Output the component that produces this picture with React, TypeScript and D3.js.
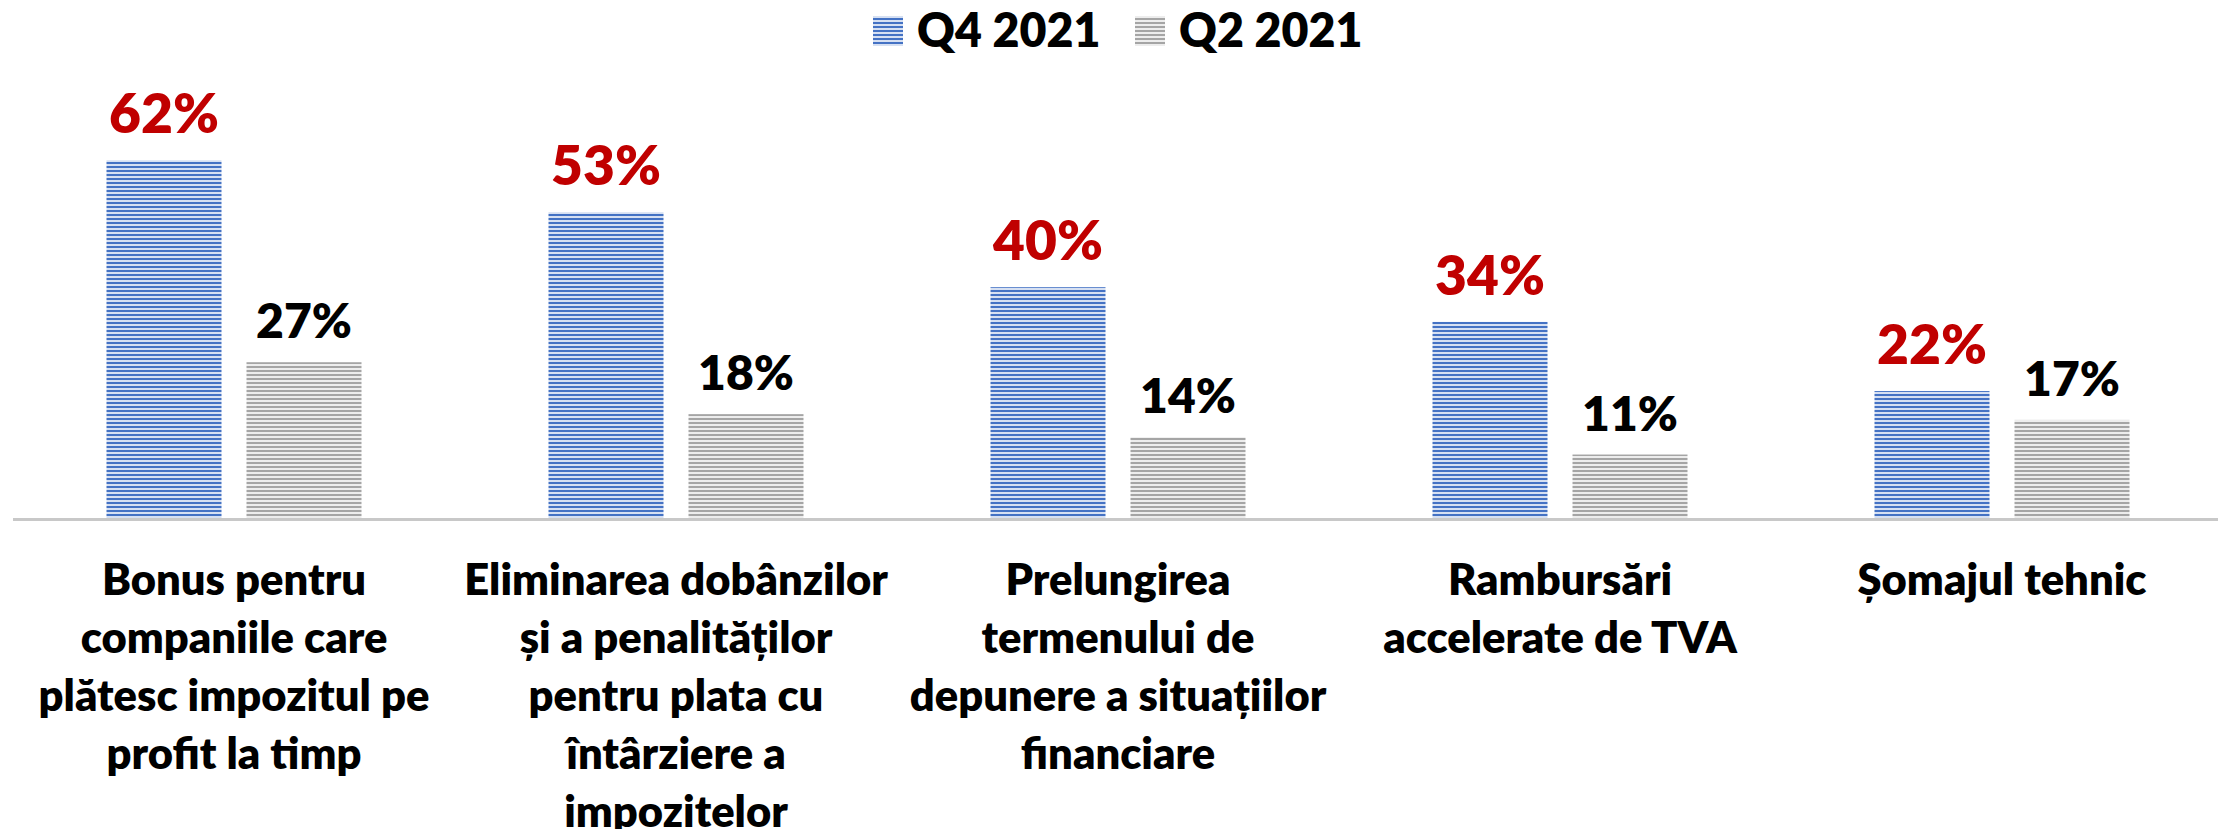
import React, { useEffect, useRef } from 'react'
import * as d3 from 'd3'

const categories = [
  ['Bonus pentru', 'companiile care', 'plătesc impozitul pe', 'profit la timp'],
  ['Eliminarea dobânzilor', 'și a penalităților', 'pentru plata cu', 'întârziere a', 'impozitelor'],
  ['Prelungirea', 'termenului de', 'depunere a situațiilor', 'financiare'],
  ['Rambursări', 'accelerate de TVA'],
  ['Șomajul tehnic'],
]
const seriesNames = ['Q4 2021', 'Q2 2021']
const q4Values = [62, 53, 40, 34, 22]
const q2Values = [27, 18, 14, 11, 17]

const FONT = 'Lato, "Open Sans", sans-serif'

const App = () => {
  const ref = useRef<SVGSVGElement>(null)

  useEffect(() => {
    const width = 2226
    const height = 837
    const svg = d3.select(ref.current).attr('width', width).attr('height', height)
    svg.selectAll('*').remove()

    const defs = svg.append('defs')
    const patterns = [
      { id: 'stripeBlue', line: '#4472C4', bg: '#d6e0f2' },
      { id: 'stripeGrey', line: '#a5a5a5', bg: '#ededed' },
    ]
    patterns.forEach((p) => {
      const pat = defs
        .append('pattern')
        .attr('id', p.id)
        .attr('patternUnits', 'userSpaceOnUse')
        .attr('width', 8)
        .attr('height', 4)
      pat.append('rect').attr('width', 8).attr('height', 4).attr('fill', p.bg)
      pat.append('rect').attr('y', 2).attr('width', 8).attr('height', 2).attr('fill', p.line)
    })

    const baseY = 518
    const barW = 115
    const gap = 25
    const groupW = barW * 2 + gap
    const x0 = d3.scaleBand<number>().domain(d3.range(categories.length)).range([13, 2223])
    const x1 = d3
      .scaleBand<number>()
      .domain([0, 1])
      .range([0, groupW])
      .paddingInner(gap / (barW + gap))
    const y = d3.scaleLinear().domain([0, 100]).range([baseY, baseY - 577])

    const groupOffset = (x0.bandwidth() - groupW) / 2
    const series = [
      { values: q4Values, fill: 'url(#stripeBlue)', label: '#C00000', size: 55, gap: 27 },
      { values: q2Values, fill: 'url(#stripeGrey)', label: '#000000', size: 48, gap: 24 },
    ]

    const g = svg.append('g')
    series.forEach((s, si) => {
      g.append('g')
        .selectAll('rect')
        .data(s.values)
        .join('rect')
        .attr('x', (_, i) => (x0(i) as number) + groupOffset + (x1(si) as number))
        .attr('y', (d) => y(d))
        .attr('width', x1.bandwidth())
        .attr('height', (d) => baseY - y(d))
        .attr('fill', s.fill)

      g.append('g')
        .selectAll('text')
        .data(s.values)
        .join('text')
        .attr('x', (_, i) => (x0(i) as number) + groupOffset + (x1(si) as number) + x1.bandwidth() / 2)
        .attr('y', (d) => y(d) - s.gap)
        .attr('text-anchor', 'middle')
        .attr('font-family', FONT)
        .attr('font-weight', 800)
        .attr('font-size', s.size)
        .attr('fill', s.label)
        .text((d) => `${d}%`)
    })

    // axis line
    svg
      .append('line')
      .attr('x1', 13)
      .attr('x2', 2222)
      .attr('y1', baseY + 1.5)
      .attr('y2', baseY + 1.5)
      .attr('stroke', '#c8c8c8')
      .attr('stroke-width', 3)

    // category labels
    categories.forEach((lines, i) => {
      const cx = (x0(i) as number) + x0.bandwidth() / 2
      const t = svg
        .append('text')
        .attr('text-anchor', 'middle')
        .attr('font-family', FONT)
        .attr('font-weight', 800)
        .attr('font-size', 43.5)
        .attr('fill', '#000')
      lines.forEach((ln, li) => {
        t.append('tspan').attr('x', cx).attr('y', 595 + li * 58).text(ln)
      })
    })

    // legend
    const legendX = [873, 1135]
    seriesNames.forEach((name, i) => {
      svg
        .append('rect')
        .attr('x', legendX[i])
        .attr('y', 16)
        .attr('width', 30)
        .attr('height', 30)
        .attr('fill', series[i].fill)
      svg
        .append('text')
        .attr('x', legendX[i] + 44)
        .attr('y', 47)
        .attr('font-family', FONT)
        .attr('font-weight', 800)
        .attr('font-size', 46.5)
        .attr('fill', '#000')
        .text(name)
    })
  }, [])

  return (
    <div style={{ margin: -8 }}>
      <svg ref={ref} style={{ display: 'block' }}></svg>
    </div>
  )
}

export default App
